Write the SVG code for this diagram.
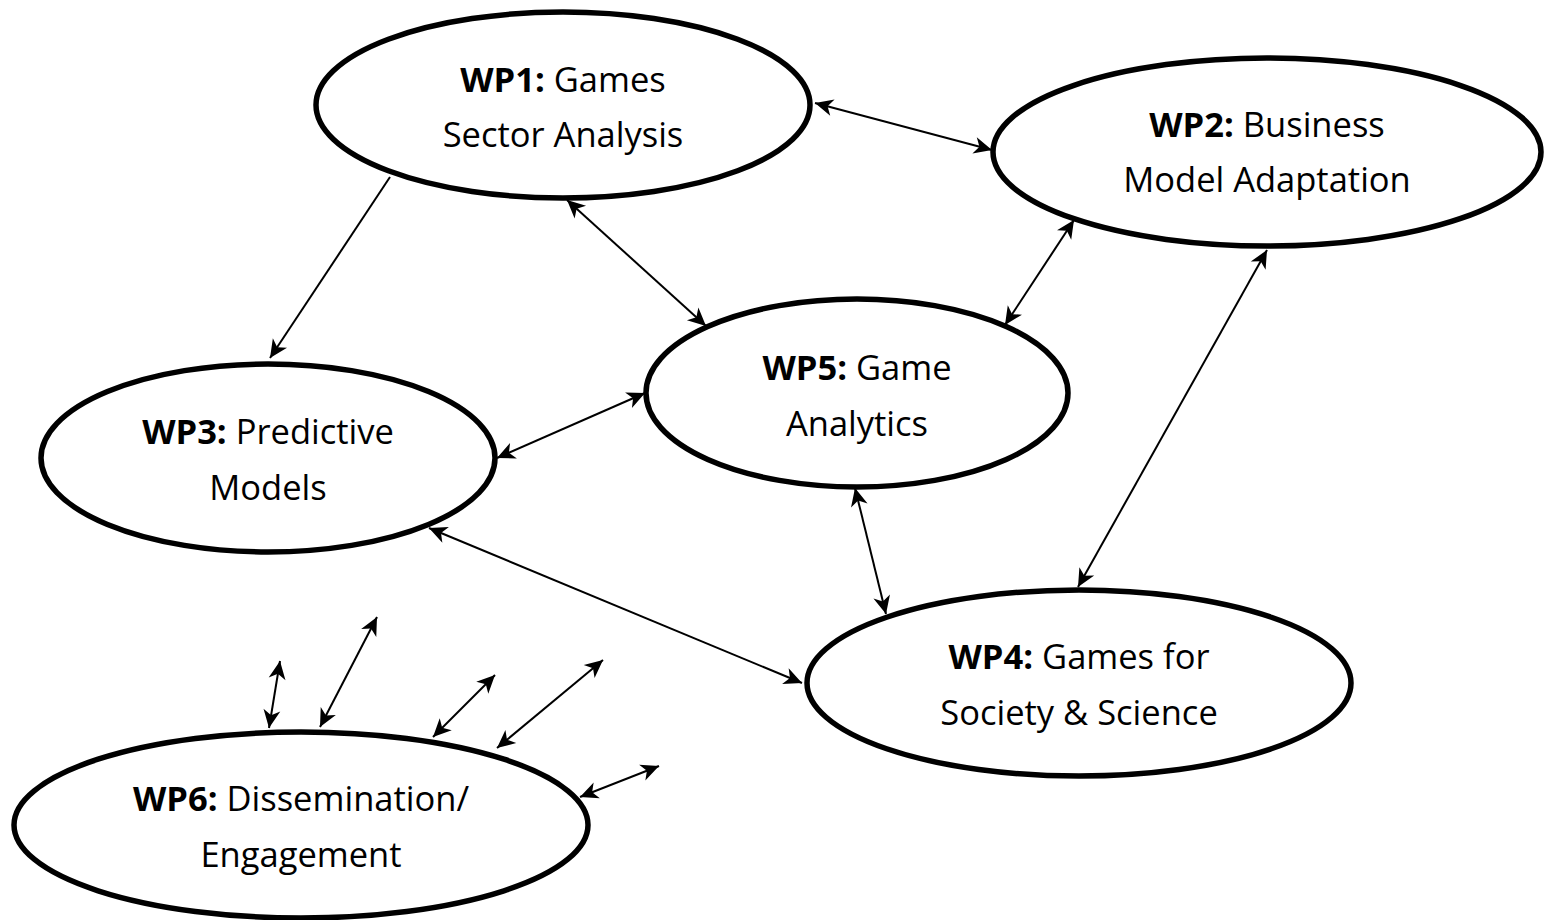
<svg xmlns="http://www.w3.org/2000/svg" width="1544" height="920" viewBox="0 0 1544 920">
  <style>
    .wp ellipse { fill: #fff; stroke: #000; stroke-width: 5.5; }
    .wp text { font-family: "Open Sans", "Noto Sans", sans-serif; font-size: 34.5px; fill: #000; text-anchor: middle; }
    .wp tspan.b { font-weight: bold; }
    #links line { stroke: #000; stroke-width: 2; marker-start: url(#tip); marker-end: url(#tip); }
    #links line.one { marker-start: none; }
  </style>
  <defs>
    <marker id="tip" markerUnits="userSpaceOnUse" markerWidth="22" markerHeight="22" viewBox="-20 -11 22 22" refX="0" refY="0" orient="auto-start-reverse">
      <path d="M0,0 L-18,-8.5 L-13,0 L-18,8.5 Z" fill="#000"/>
    </marker>
  </defs>
  <rect width="1544" height="920" fill="#fff"/>

  <g id="nodes">
    <g id="wp1" class="wp">
      <ellipse cx="563" cy="105" rx="247" ry="93"/>
      <text x="563" y="92"><tspan class="b">WP1:</tspan> Games</text>
      <text x="563" y="147">Sector Analysis</text>
    </g>
    <g id="wp2" class="wp">
      <ellipse cx="1267" cy="152" rx="274" ry="94"/>
      <text x="1267" y="137"><tspan class="b">WP2:</tspan> Business</text>
      <text x="1267" y="192">Model Adaptation</text>
    </g>
    <g id="wp5" class="wp">
      <ellipse cx="857" cy="393" rx="211" ry="94"/>
      <text x="857" y="380"><tspan class="b">WP5:</tspan> Game</text>
      <text x="857" y="436">Analytics</text>
    </g>
    <g id="wp3" class="wp">
      <ellipse cx="268" cy="458" rx="227" ry="94"/>
      <text x="268" y="444"><tspan class="b">WP3:</tspan> Predictive</text>
      <text x="268" y="500">Models</text>
    </g>
    <g id="wp4" class="wp">
      <ellipse cx="1079" cy="683" rx="272" ry="93"/>
      <text x="1079" y="669"><tspan class="b">WP4:</tspan> Games for</text>
      <text x="1079" y="725">Society &amp; Science</text>
    </g>
    <g id="wp6" class="wp">
      <ellipse cx="301" cy="825" rx="287" ry="93"/>
      <text x="301" y="811"><tspan class="b">WP6:</tspan> Dissemination/</text>
      <text x="301" y="867">Engagement</text>
    </g>
  </g>

  <g id="links">
    <line x1="815" y1="103" x2="992" y2="150"/>
    <line class="one" x1="390" y1="177" x2="270" y2="358"/>
    <line x1="567" y1="200" x2="706" y2="326"/>
    <line x1="1074" y1="220" x2="1005" y2="325"/>
    <line x1="1267" y1="250" x2="1078" y2="587"/>
    <line x1="645" y1="393" x2="497" y2="458"/>
    <line x1="855" y1="488" x2="886" y2="614"/>
    <line x1="429" y1="528" x2="802" y2="683"/>
    <line x1="269" y1="728" x2="280" y2="661"/>
    <line x1="320" y1="727" x2="377" y2="617"/>
    <line x1="433" y1="737" x2="495" y2="675"/>
    <line x1="497" y1="748" x2="603" y2="660"/>
    <line x1="580" y1="797" x2="659" y2="766"/>
  </g>
</svg>
